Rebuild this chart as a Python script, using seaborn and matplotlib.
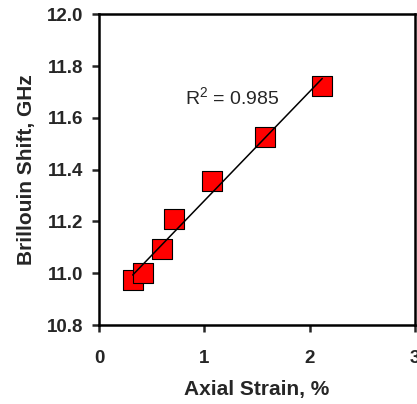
import numpy as np
import pandas as pd
import seaborn as sns
import matplotlib
matplotlib.use("Agg")
import matplotlib.pyplot as plt

# ------------------ DATA ------------------
strain = [0.32, 0.42, 0.595, 0.715, 1.07, 1.58, 2.12]          # axial strain, %
shift = [10.975, 11.0, 11.093, 11.208, 11.355, 11.527, 11.725]  # Brillouin shift, GHz
r2_label = "R$^{2}$ = 0.985"
x_ticks = [0, 1, 2, 3]
y_ticks = [10.8, 11.0, 11.2, 11.4, 11.6, 11.8, 12.0]
# ------------------------------------------

df = pd.DataFrame({"strain": strain, "shift": shift})

sns.set_style("ticks")
plt.rcParams["font.family"] = ["Liberation Sans", "DejaVu Sans"]
plt.rcParams["mathtext.fontset"] = "custom"
plt.rcParams["mathtext.rm"] = "Liberation Sans"
plt.rcParams["mathtext.default"] = "regular"
plt.rcParams["axes.linewidth"] = 1.8

fig = plt.figure(figsize=(4.17, 4.04), dpi=100)
ax = fig.add_axes([0.2374, 0.1955, 0.7576, 0.7691])

sns.scatterplot(data=df, x="strain", y="shift", marker="s", s=200,
                color="#ff0000", edgecolor="black", linewidth=0.8,
                zorder=2, ax=ax, legend=False)
sns.regplot(data=df, x="strain", y="shift", scatter=False, ci=None,
            truncate=True, line_kws={"color": "black", "lw": 1.1, "zorder": 3},
            ax=ax)

ax.text(0.817, 11.655, r2_label, fontsize=14, ha="left", va="baseline")

ax.set_xlim(0, 3)
ax.set_ylim(10.8, 12.0)
ax.set_xticks(x_ticks)
ax.set_yticks(y_ticks)
ax.set_xticklabels([str(t) for t in x_ticks])
ax.set_yticklabels([f"{t:.1f}" for t in y_ticks])
ax.tick_params(axis="both", direction="out", length=5, width=1.8,
               labelsize=13.5)
ax.tick_params(axis="x", pad=13)
ax.tick_params(axis="y", pad=6)
for lab in ax.get_xticklabels() + ax.get_yticklabels():
    lab.set_fontweight("bold")

for side in ["top", "right", "left", "bottom"]:
    ax.spines[side].set_visible(True)
    ax.spines[side].set_color("black")

ax.set_xlabel("Axial Strain, %", fontsize=15, fontweight="bold", labelpad=9)
ax.set_ylabel("Brillouin Shift, GHz", fontsize=15, fontweight="bold", labelpad=8)

fig.savefig("out.png", dpi=100)
